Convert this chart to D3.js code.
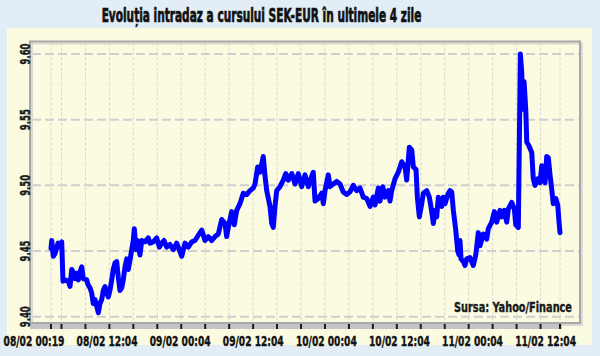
<!DOCTYPE html>
<html><head><meta charset="utf-8">
<script src="https://cdn.jsdelivr.net/npm/d3@7"></script>
<style>
html,body{margin:0;padding:0;background:#e2edf5;}
svg{display:block;}
text{font-family:"Liberation Sans Narrow","DejaVu Sans Condensed","Arial Narrow",sans-serif;font-weight:bold;}
</style></head>
<body>
<svg id="c" width="600" height="356"></svg>
<script>
// ---- data ----
const title = "Evoluția intradaz a cursului SEK-EUR în ultimele 4 zile";
const source = "Sursa: Yahoo/Finance";
const xLabels = ["08/02 00:19","08/02 12:04","09/02 00:04","09/02 12:04","10/02 00:04","10/02 12:04","11/02 00:04","11/02 12:04"];
const yTicks = [9.40, 9.45, 9.50, 9.55, 9.60];
// hours elapsed since 08/02 00:19
const hours = [0,0.12,0.38,0.67,1.17,1.5,1.79,2.0,2.34,2.89,3.17,3.46,3.72,4.01,4.29,4.56,4.84,5.13,5.39,5.96,6.23,6.51,6.8,7.06,7.35,7.63,7.9,8.18,8.47,8.73,9.02,9.3,9.57,9.85,10.14,10.4,10.69,10.97,11.24,11.52,11.81,12.07,12.36,12.64,12.91,13.19,13.48,13.74,13.91,14.2,14.41,14.86,15.15,15.7,16.25,16.53,17.08,17.65,18.09,18.49,18.87,19.32,19.87,20.42,20.99,21.26,21.83,22.38,22.93,23.5,24.05,24.6,25.17,25.72,26.27,26.84,27.39,27.94,28.51,29.06,29.34,29.61,30.18,30.61,31.01,31.56,32.11,32.68,33.23,33.78,34.07,34.52,34.9,35.45,35.74,36.02,36.57,36.86,37.12,37.41,37.69,38.24,38.79,39.2,39.63,40.2,40.75,41.3,41.87,42.42,42.97,43.54,43.8,44.09,44.64,45.21,45.48,45.76,46.31,46.59,47.14,47.71,48.26,48.81,49.38,49.93,50.48,51.05,51.6,52.15,52.72,53.27,53.82,54.11,54.66,54.94,55.4,55.78,56.33,56.61,56.9,57.45,58.0,58.57,59.12,59.4,59.84,60.24,60.51,60.96,61.18,61.51,61.91,62.18,62.74,63.18,63.58,63.85,64.13,64.41,64.68,65.25,65.51,65.8,66.35,66.63,66.92,67.19,67.59,67.92,68.14,68.3,68.47,68.86,69.14,69.42,69.97,70.52,70.93,71.36,71.64,72.19,72.76,73.03,73.6,74.04,74.43,74.98,75.27,75.7,76.1,76.37,76.94,77.38,77.61,78.04,78.21,78.38,78.61,78.78,79.0,79.28,79.45,79.83,80.28,80.54,80.83,81.28,81.66,81.95,82.21,82.5,82.78,83.05,83.33,83.62,83.88,84.29,84.62,84.84,85.0];
const rates = [9.452,9.458,9.446,9.448,9.456,9.453,9.457,9.427,9.428,9.427,9.423,9.436,9.434,9.429,9.433,9.428,9.434,9.438,9.429,9.428,9.424,9.422,9.418,9.41,9.413,9.408,9.403,9.41,9.413,9.42,9.423,9.418,9.415,9.42,9.428,9.436,9.441,9.442,9.43,9.42,9.422,9.428,9.438,9.444,9.436,9.443,9.451,9.458,9.467,9.451,9.458,9.447,9.458,9.457,9.46,9.456,9.457,9.46,9.453,9.456,9.458,9.453,9.455,9.451,9.456,9.453,9.446,9.456,9.453,9.457,9.458,9.462,9.466,9.458,9.461,9.458,9.461,9.463,9.474,9.471,9.461,9.468,9.48,9.47,9.481,9.486,9.494,9.493,9.496,9.498,9.501,9.514,9.51,9.522,9.507,9.496,9.484,9.471,9.468,9.484,9.496,9.499,9.504,9.509,9.504,9.509,9.501,9.509,9.499,9.508,9.499,9.507,9.51,9.488,9.49,9.494,9.486,9.496,9.508,9.499,9.501,9.503,9.501,9.495,9.493,9.495,9.5,9.496,9.498,9.491,9.49,9.484,9.491,9.485,9.498,9.488,9.499,9.491,9.496,9.488,9.496,9.505,9.51,9.518,9.514,9.504,9.529,9.527,9.514,9.512,9.491,9.476,9.486,9.494,9.496,9.491,9.48,9.471,9.481,9.476,9.491,9.484,9.491,9.486,9.494,9.496,9.495,9.481,9.466,9.45,9.447,9.458,9.444,9.442,9.439,9.444,9.445,9.439,9.447,9.464,9.454,9.463,9.459,9.467,9.472,9.48,9.472,9.481,9.476,9.481,9.472,9.482,9.487,9.482,9.47,9.468,9.533,9.6,9.586,9.558,9.579,9.558,9.533,9.53,9.525,9.505,9.5,9.505,9.502,9.515,9.508,9.502,9.522,9.521,9.508,9.497,9.486,9.49,9.485,9.472,9.464];
const totalHours = 85;
const firstTickHour = 1.75; // 08/02 02:04
const tickStepHours = 4;

// ---- drawing ----
const svg = d3.select("#c");
const box = {l:30, r:580, t:41.5, b:323};
const x = d3.scaleLinear().domain([0, totalHours]).range([51, 560]);
const y = d3.scaleLinear().domain([9.40, 9.60]).range([316.7, 54]);

// squeeze text horizontally to a target width (keeps glyph height)
function fit(sel, target, pre) {
  sel.each(function(d){
    const w = this.getComputedTextLength();
    const s = Math.min(1, target / w);
    d3.select(this).attr("transform", (pre ? pre(d) : "") + ` scale(${s},1)`);
  });
}

// panel
svg.append("rect").attr("x",7).attr("y",28).attr("width",585).attr("height",317).attr("fill","#fbfbe1");

// title
svg.append("text").attr("text-anchor","middle")
  .attr("font-size",19).attr("fill","#111").attr("stroke","#111").attr("stroke-width",0.7)
  .text(title)
  .call(fit, 320, ()=>"translate(261.5,22)");

// tick hours
const tickHours = [0].concat(d3.range(firstTickHour, totalHours - 2, tickStepHours)).concat([totalHours]);

// vertical grid
svg.append("g").selectAll("line").data(tickHours).join("line")
  .attr("x1",d=>x(d)).attr("x2",d=>x(d)).attr("y1",box.t+1).attr("y2",box.b)
  .attr("stroke","#d6d6cc").attr("stroke-width",1).attr("stroke-dasharray","3,2");

// horizontal grid
svg.append("g").selectAll("line").data(yTicks).join("line")
  .attr("x1",box.l+2).attr("x2",box.r).attr("y1",d=>y(d)).attr("y2",d=>y(d))
  .attr("stroke","#cfcfcf").attr("stroke-width",2).attr("stroke-dasharray","9,4");

// plot border with shadow
svg.append("rect").attr("x",box.l+2).attr("y",box.t+2).attr("width",box.r-box.l).attr("height",box.b-box.t)
  .attr("fill","none").attr("stroke","#dadad0").attr("stroke-width",2);
svg.append("rect").attr("x",box.l).attr("y",box.t).attr("width",box.r-box.l).attr("height",box.b-box.t)
  .attr("fill","none").attr("stroke","#a8a8a8").attr("stroke-width",2);

// tick band
svg.append("rect").attr("x",box.l).attr("y",box.b+1).attr("width",x(totalHours)+2-box.l).attr("height",5).attr("fill","#c4c4c4");
svg.append("g").selectAll("line").data(tickHours).join("line")
  .attr("x1",d=>x(d)).attr("x2",d=>x(d)).attr("y1",box.b+1).attr("y2",box.b+6)
  .attr("stroke","#1a1a1a").attr("stroke-width",2);

// y labels (rotated)
svg.append("g").selectAll("text").data(yTicks).join("text")
  .attr("text-anchor","middle").attr("font-size",14.5).attr("fill","#1a1a1a")
  .attr("stroke","#1a1a1a").attr("stroke-width",0.4)
  .text(d=>d3.format(".2f")(d))
  .call(fit, 21, d=>`translate(29.5,${y(d)}) rotate(-90)`);

// x labels
const xl = d3.scalePoint().domain(xLabels).range([34, 545.6]);
svg.append("g").selectAll("text").data(xLabels).join("text")
  .attr("text-anchor","middle")
  .attr("font-size",14.5).attr("fill","#111").attr("stroke","#111").attr("stroke-width",0.4)
  .text(d=>d)
  .call(fit, 61, d=>`translate(${xl(d)},345.5)`);

// source
svg.append("text").attr("text-anchor","end")
  .attr("font-size",14.5).attr("fill","#1a1a1a").attr("stroke","#1a1a1a").attr("stroke-width",0.4)
  .text(source)
  .call(fit, 118, ()=>"translate(572,312)");

// line
const pts = hours.map((h,i)=>[h, rates[i]]);
svg.append("path").datum(pts)
  .attr("fill","none").attr("stroke","#0000ff").attr("stroke-width",5)
  .attr("stroke-linejoin","round").attr("stroke-linecap","round")
  .attr("d", d3.line().x(d=>x(d[0])).y(d=>y(d[1])));
</script>
</body></html>
